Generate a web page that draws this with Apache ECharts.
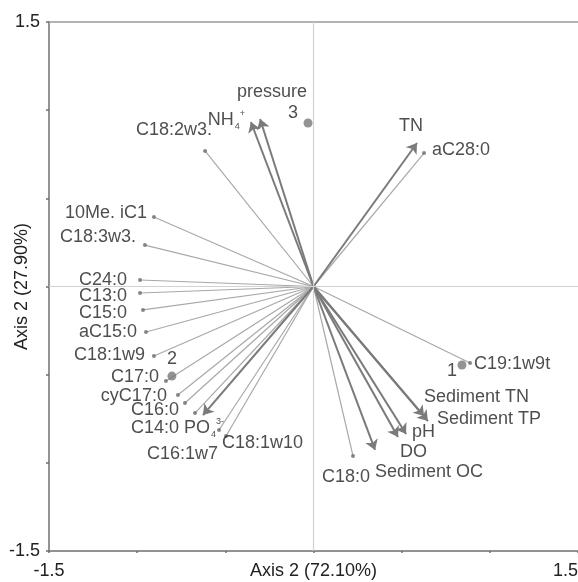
<!DOCTYPE html>
<html><head><meta charset="utf-8">
<script src="https://cdn.jsdelivr.net/npm/echarts@6/dist/echarts.min.js"></script>
<style>html,body{margin:0;padding:0;background:#fff}#c{width:578px;height:582px}</style>
</head><body><div id="c"></div>
<script>
// ---- data ----
const tickLabels = ['-1.5', '1.5'];
const xTitle = 'Axis 2 (72.10%)';
const yTitle = 'Axis 2 (27.90%)';

const speciesNames = ['C18:2w3.', '10Me. iC1', 'C18:3w3.', 'C24:0', 'C13:0', 'C15:0', 'aC15:0', 'C18:1w9', 'C17:0', 'cyC17:0', 'C16:0', 'C14:0', 'C16:1w7', 'C18:1w10', 'C18:0', 'C19:1w9t', 'aC28:0'];
const speciesX = [-0.615, -0.905, -0.956, -0.984, -0.984, -0.967, -0.950, -0.905, -0.837, -0.769, -0.729, -0.672, -0.536, -0.496, 0.224, 0.888, 0.627];
const speciesY = [0.769, 0.394, 0.235, 0.037, -0.037, -0.133, -0.258, -0.394, -0.536, -0.615, -0.661, -0.718, -0.814, -0.848, -0.961, -0.434, 0.757];

const envNames = ['NH4+', 'pressure', 'TN', 'Sediment TN', 'Sediment TP', 'pH', 'DO', 'Sediment OC', 'PO43-'];
const envX = [-0.355, -0.303, 0.587, 0.627, 0.649, 0.525, 0.479, 0.349, -0.627];
const envY = [0.933, 0.950, 0.814, -0.735, -0.763, -0.837, -0.854, -0.927, -0.729];

const siteNames = ['1', '2', '3'];
const siteX = [0.842, -0.803, -0.031];
const siteY = [-0.445, -0.508, 0.927];

// ---- label placement (pixel offsets from point) ----
const labelLayout = {
  'C18:2w3.': [7, -21, 'right'], '10Me. iC1': [-7, -4, 'right'], 'C18:3w3.': [-9, -8, 'right'],
  'C24:0': [-13, 0, 'right'], 'C13:0': [-13, 3, 'right'], 'C15:0': [-16, 3, 'right'],
  'aC15:0': [-9, 0, 'right'], 'C18:1w9': [-9, -1, 'right'], 'C17:0': [-7, -4, 'right'],
  'cyC17:0': [-11, 1, 'right'], 'C16:0': [-6, 7, 'right'], 'C14:0': [-16, 15, 'right'],
  'C16:1w7': [-1, 24, 'right'], 'C18:1w10': [-4, 7, 'left'], 'C18:0': [-7, 21, 'center'],
  'C19:1w9t': [4, 1, 'left'], 'aC28:0': [8, -3, 'left'],
  'NH4+': [-6, -2, 'right'], 'pressure': [12, -27, 'center'], 'TN': [-6, -17, 'center'],
  'Sediment TN': [0, -19, 'left'], 'Sediment TP': [9, -2, 'left'], 'pH': [6, -2, 'left'],
  'DO': [2, 15, 'left'], 'Sediment OC': [0, 22, 'left'], 'PO43-': [-19, 13, 'left'],
  '1': [-10, 6, 'center'], '2': [0, -17, 'center'], '3': [-15, -10, 'center']
};
const richText = { 'NH4+': '{b|NH}{sub|4}{sup|+}', 'PO43-': '{b|PO}{sub|4}{sup|3-}' };

const FONT = "'Liberation Sans', Arial, sans-serif";
const FS = 18;
const TXT = '#222';

function mkLabel(name, size) {
  const l = labelLayout[name];
  return {
    show: true,
    position: [l[0] + size / 2, l[1] + size / 2],
    align: l[2], verticalAlign: 'middle',
    formatter: richText[name] || name,
    fontFamily: FONT, fontSize: FS, color: TXT,
    rich: {
      b: { fontFamily: FONT, fontSize: FS, color: TXT, lineHeight: 22 },
      sub: { fontFamily: FONT, fontSize: 9, color: TXT, lineHeight: 9, verticalAlign: 'bottom', padding: [0, 0, 0, 1] },
      sup: { fontFamily: FONT, fontSize: 9, color: TXT, lineHeight: 9, verticalAlign: 'top' }
    }
  };
}

const chart = echarts.init(document.getElementById('c'));
const axisLabelFmt = v => (v === -1.5 ? tickLabels[0] : (v === 1.5 ? tickLabels[1] : ''));

chart.setOption({
  animation: false,
  backgroundColor: '#fff',
  grid: { left: 49, top: 22, right: 0, bottom: 31, containLabel: false, outerBoundsMode: 'none' },
  xAxis: [{
    type: 'value', min: -1.5, max: 1.5, interval: 0.5, position: 'bottom',
    axisLine: { show: true, onZero: false, lineStyle: { color: '#6f6f6f', width: 1.5 } },
    axisTick: { show: true, length: 2, inside: false, lineStyle: { color: '#6f6f6f', width: 1.5 } },
    axisLabel: { formatter: axisLabelFmt, fontFamily: FONT, fontSize: FS, color: TXT, margin: 11, showMinLabel: true, showMaxLabel: true, alignMaxLabel: 'right' },
    splitLine: { show: false },
    name: xTitle, nameLocation: 'middle', nameGap: 11, nameMoveOverlap: false,
    nameTextStyle: { fontFamily: FONT, fontSize: FS, color: TXT, verticalAlign: 'top' }
  }, {
    type: 'value', min: -1.5, max: 1.5, position: 'top',
    axisLine: { show: true, onZero: false, lineStyle: { color: '#9a9a9a', width: 1.5 } },
    axisTick: { show: false }, axisLabel: { show: false }, splitLine: { show: false }
  }],
  yAxis: {
    type: 'value', min: -1.5, max: 1.5, interval: 0.5,
    axisLine: { show: true, onZero: false, lineStyle: { color: '#6f6f6f', width: 1.5 } },
    axisTick: { show: true, length: 3, lineStyle: { color: '#6f6f6f', width: 1.5 } },
    axisLabel: { formatter: axisLabelFmt, fontFamily: FONT, fontSize: FS, color: TXT, margin: 9, showMinLabel: true, showMaxLabel: true },
    splitLine: { show: false },
    name: yTitle, nameLocation: 'middle', nameGap: 27, nameRotate: 90, nameMoveOverlap: false,
    nameTextStyle: { fontFamily: FONT, fontSize: FS, color: TXT, verticalAlign: 'middle' }
  },
  series: [
    {
      type: 'lines', coordinateSystem: 'cartesian2d', z: 2,
      symbol: ['none', 'none'],
      lineStyle: { color: '#a8a8a8', width: 1.2, opacity: 1 },
      data: speciesNames.map((n, i) => ({ coords: [[0, 0], [speciesX[i], speciesY[i]]] })),
      markLine: {
        silent: true, symbol: 'none', label: { show: false },
        lineStyle: { color: '#d2d2d2', width: 1.2, type: 'solid' },
        data: [{ xAxis: 0 }, { yAxis: 0 }]
      }
    },
    {
      type: 'lines', coordinateSystem: 'cartesian2d', z: 3,
      symbol: ['none', 'arrow'], symbolSize: 10,
      lineStyle: { color: '#7a7a7a', width: 2, opacity: 1 },
      data: envNames.map((n, i) => ({ coords: [[0, 0], [envX[i], envY[i]]] }))
    },
    {
      type: 'scatter', z: 4, symbolSize: 4,
      itemStyle: { color: '#6a6a6a' },
      data: speciesNames.map((n, i) => ({ name: n, value: [speciesX[i], speciesY[i]], label: mkLabel(n, 4) }))
    },
    {
      type: 'scatter', z: 4, symbolSize: 1,
      itemStyle: { color: 'rgba(0,0,0,0)' },
      data: envNames.map((n, i) => ({ name: n, value: [envX[i], envY[i]], label: mkLabel(n, 1) }))
    },
    {
      type: 'scatter', z: 5, symbolSize: 9,
      itemStyle: { color: '#787878' },
      data: siteNames.map((n, i) => ({ name: n, value: [siteX[i], siteY[i]], label: mkLabel(n, 9) }))
    }
  ]
});
</script>
</body></html>
